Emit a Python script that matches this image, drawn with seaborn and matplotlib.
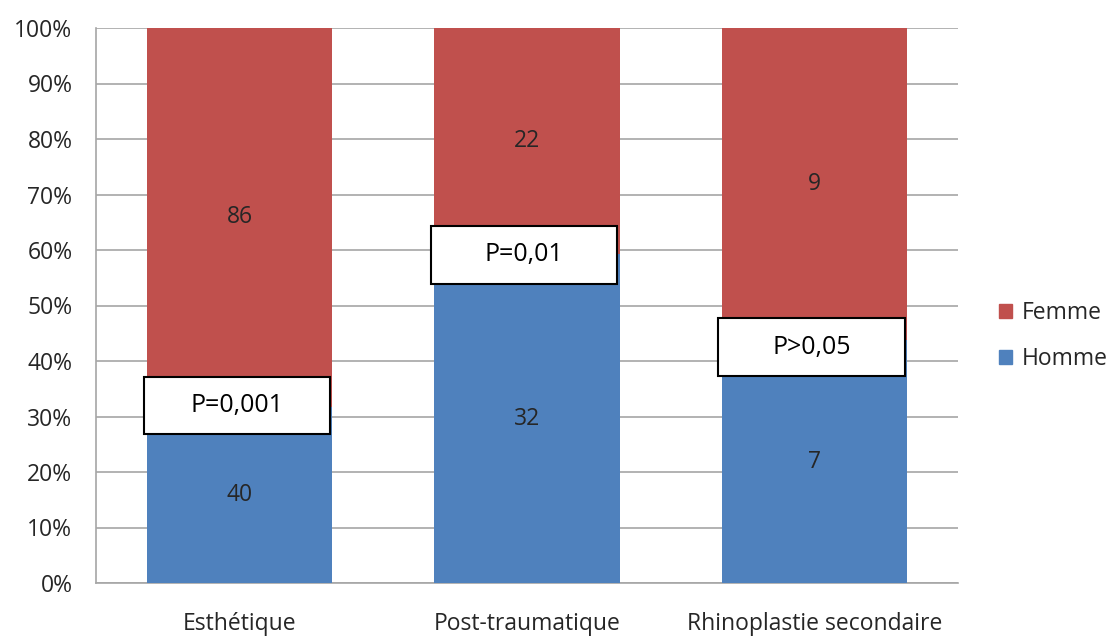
import pandas as pd
import numpy as np
import matplotlib
matplotlib.use("Agg")
import matplotlib.pyplot as plt
from matplotlib.patches import Patch, Rectangle
import seaborn as sns

categories = ["Esthétique", "Post-traumatique", "Rhinoplastie secondaire"]
homme = [40, 32, 7]
femme = [86, 22, 9]
p_labels = ["P=0,001", "P=0,01", "P>0,05"]

sns.set_style("white")
plt.rcParams['font.family'] = ['Open Sans', 'DejaVu Sans']

red = "#C0504D"
blue = "#4F81BD"
fs = 16.5

homme_pct = [100.0 * h / (h + f) for h, f in zip(homme, femme)]
df = pd.DataFrame({"cat": categories, "homme": homme_pct, "total": [100.0] * 3})

fig = plt.figure(figsize=(11.1, 6.37), dpi=100)
ax = fig.add_axes([96 / 1110, 1 - 583 / 637, 862 / 1110, 555 / 637])

sns.barplot(data=df, x="cat", y="total", color=red, saturation=1, width=0.645, ax=ax,
            zorder=2, linewidth=0)
sns.barplot(data=df, x="cat", y="homme", color=blue, saturation=1, width=0.645, ax=ax,
            zorder=3, linewidth=0)

ax.set_ylim(0, 100)
ax.set_xlim(-0.5, 2.5)
ax.set_yticks(np.arange(0, 101, 10))
ax.set_yticklabels([f"{v}%" for v in range(0, 101, 10)])
ax.yaxis.grid(True, color="#A6A6A6", linewidth=1.2, zorder=0)
ax.set_axisbelow(True)
for s in ["top", "right"]:
    ax.spines[s].set_visible(False)
for s in ["left", "bottom"]:
    ax.spines[s].set_color("#A6A6A6")
    ax.spines[s].set_linewidth(1.2)
ax.tick_params(axis="both", length=0, labelsize=fs, colors="#262626")
ax.tick_params(axis="y", pad=17)
ax.tick_params(axis="x", pad=21)
ax.set_xlabel("")
ax.set_ylabel("")

for i in range(3):
    hp = homme_pct[i]
    ax.text(i, hp / 2, str(homme[i]), ha="center", va="center", fontsize=fs, color="#262626", zorder=5)
    ax.text(i, (hp + 100) / 2, str(femme[i]), ha="center", va="center", fontsize=fs, color="#262626", zorder=5)

# p-value boxes at the split
box_y = [32.0, 59.1, 42.5]
for i in range(3):
    ax.add_patch(Rectangle((i - 0.01 - 0.324, box_y[i] - 5.2), 0.648, 10.4, facecolor="white",
                           edgecolor="black", linewidth=1.5, zorder=5.5))
    ax.text(i - 0.01, box_y[i], p_labels[i], ha="center", va="center", fontsize=18, color="black", zorder=6)

handles = [Patch(color=red, label="Femme"), Patch(color=blue, label="Homme")]
fig.legend(handles=handles, loc="center left", bbox_to_anchor=(999 / 1110, 1 - 336 / 637), frameon=False,
           fontsize=fs, handlelength=0.55, handleheight=0.55, labelspacing=0.95, handletextpad=0.45,
           borderpad=0, borderaxespad=0)

fig.savefig("out.png", dpi=100)
